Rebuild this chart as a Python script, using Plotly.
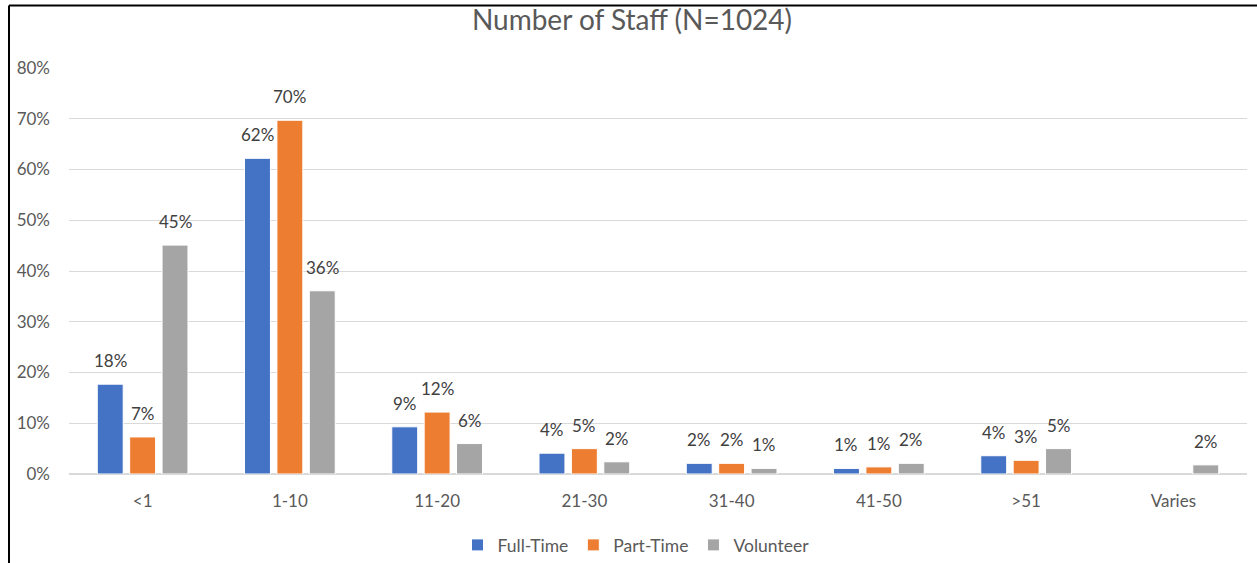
import plotly.graph_objects as go

categories = ["<1", "1-10", "11-20", "21-30", "31-40", "41-50", ">51", "Varies"]
full_time = [0.177, 0.622, 0.093, 0.041, 0.021, 0.011, 0.036, None]
part_time = [0.073, 0.697, 0.122, 0.050, 0.021, 0.014, 0.027, None]
volunteer = [0.451, 0.361, 0.060, 0.024, 0.011, 0.021, 0.050, 0.018]
series_names = ["Full-Time", "Part-Time", "Volunteer"]
colors = ["#4472C4", "#ED7D31", "#A5A5A5"]
y_ticks = [0, 0.1, 0.2, 0.3, 0.4, 0.5, 0.6, 0.7, 0.8]

FONT = "Lato"
W, H = 1257, 563
ML, MR, MT, MB = 69, 10, 68, 89
BARGAP = 0.34
BARGROUPGAP = 0.2

fig = go.Figure()
all_series = [full_time, part_time, volunteer]
for name, vals, col in zip(series_names, all_series, colors):
    fig.add_trace(go.Bar(
        name=name, x=categories, y=vals,
        marker=dict(color=col, line=dict(color="white", width=1)),
    ))

# data labels placed above each bar (offset within group computed from bargap)
group_w = 1 - BARGAP
slot = group_w / len(all_series)
annotations = []
for k, vals in enumerate(all_series):
    off = -group_w / 2 + slot * (k + 0.5)
    for i, v in enumerate(vals):
        if v is None:
            continue
        annotations.append(dict(
            x=i + off, y=v, xref="x", yref="y", text=f"{v:.0%}",
            showarrow=False, yanchor="bottom", yshift=11,
            font=dict(family=FONT, size=17, color="#404040"),
        ))

pw = W - ML - MR
ph = H - MT - MB
x_left = (9 - ML) / pw
y_top = (ph + MT - 5.5) / ph
y_bot = (ph + MT - H) / ph
x_right = (W - ML) / pw

fig.update_layout(
    width=W, height=H,
    margin=dict(l=ML, r=MR, t=MT, b=MB, autoexpand=False),
    paper_bgcolor="white", plot_bgcolor="white",
    barmode="group", bargap=BARGAP, bargroupgap=BARGROUPGAP,
    title=dict(text="Number of Staff (N=1024)", x=632 / W, xanchor="center",
               y=1 - 20 / H, yanchor="middle",
               font=dict(family=FONT, size=28, color="#595959")),
    font=dict(family=FONT, color="#595959"),
    legend=dict(orientation="h", x=(636 - ML) / pw, xanchor="center",
                y=(ph + MT - 545) / ph, yanchor="middle",
                font=dict(family=FONT, size=17.5, color="#595959"),
                traceorder="normal"),
    xaxis=dict(showgrid=False, showline=True, linecolor="#D9D9D9", linewidth=1,
               tickfont=dict(family=FONT, size=17, color="#595959"),
               ticklabelstandoff=12, fixedrange=True),
    yaxis=dict(range=[0, 0.8], tickvals=y_ticks, tickformat=".0%",
               showgrid=True, gridcolor="#D9D9D9", gridwidth=1,
               zeroline=True, zerolinecolor="#D9D9D9",
               tickfont=dict(family=FONT, size=17, color="#595959"),
               ticklabelstandoff=18),
    annotations=annotations,
    shapes=[
        dict(type="line", xref="paper", yref="paper", x0=x_left, x1=x_left,
             y0=y_bot, y1=y_top, line=dict(color="black", width=2)),
        dict(type="line", xref="paper", yref="paper", x0=x_left, x1=x_right,
             y0=y_top, y1=y_top, line=dict(color="black", width=2)),
    ],
)

fig.write_html("out.html", config={"displayModeBar": False},
               post_script="document.body.style.margin='0px';")
